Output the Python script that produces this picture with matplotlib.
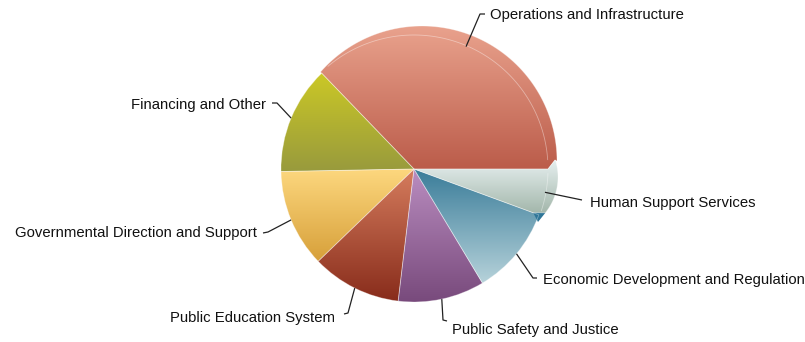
import numpy as np
import matplotlib.pyplot as plt
from matplotlib.colors import LinearSegmentedColormap
from matplotlib.patches import Polygon

# budget shares by appropriation title (percent of total)
categories = [
    "Operations and Infrastructure",
    "Financing and Other",
    "Governmental Direction and Support",
    "Public Education System",
    "Public Safety and Justice",
    "Economic Development and Regulation",
    "Human Support Services",
]
shares = [37.2, 13.1, 11.9, 10.9, 10.5, 10.8, 5.6]

# gradient for each slice, top colour -> bottom colour
top_colors = ["#e9a28d", "#cbc826", "#fdd87f", "#d67d5e", "#ba8dc0", "#397c99", "#e6efef"]
bottom_colors = ["#bb5c4a", "#989a3d", "#d7a03a", "#882c1b", "#784a7c", "#b6d2da", "#a3b7ab"]

W, H = 805, 342
cx, cy = 414, H - 169
r = 133

fig = plt.figure(figsize=(W / 100, H / 100), dpi=100)
ax = fig.add_axes([0, 0, 1, 1])

wedges, _ = ax.pie(shares, startangle=0, counterclock=True, radius=r,
                   center=(cx, cy), frame=True,
                   wedgeprops=dict(linewidth=0.6, edgecolor=(1, 1, 1, 0.35)))


def pt(ang, rad, ox=cx, oy=cy):
    a = np.radians(ang)
    return (ox + rad * np.cos(a), oy + rad * np.sin(a))


def arc(ox, oy, rad, a0, a1, n=80):
    return [pt(a, rad, ox, oy) for a in np.linspace(a0, a1, n)]


shapes = list(wedges)

# the two slices on the right are drawn raised, with a thicker rim
ops, hum = wedges[0], wedges[6]
bev1 = (cx + 134, cy)
bev2 = (555, H - 160)

ox, oy, R = 422, H - 161, 135
corner = pt(ops.theta2, r)
a_end = np.degrees(np.arctan2(corner[1] - oy, corner[0] - ox))
ops_poly = Polygon([(cx, cy), bev1, bev2] + arc(ox, oy, R, 0, a_end) + [corner],
                   closed=True, edgecolor=(1, 1, 1, 0.35), lw=0.6)
ax.add_patch(ops_poly)

hx, hy, hr = 501, H - 177, 57
low = pt(hum.theta1, 127)
hum_poly = Polygon([(cx, cy), low] + arc(hx, hy, hr, -39, 17) + [bev2, bev1],
                   closed=True, edgecolor=(1, 1, 1, 0.35), lw=0.6)
ax.add_patch(hum_poly)
ops.set_visible(False)
hum.set_visible(False)
shapes[0], shapes[6] = ops_poly, hum_poly

grad = np.linspace(0, 1, 256).reshape(-1, 1)
for i, s in enumerate(shapes):
    s.set_facecolor("none")
    s.set_zorder(3)
    ext = s.get_path().get_extents()
    cmap = LinearSegmentedColormap.from_list("s%d" % i, [top_colors[i], bottom_colors[i]])
    im = ax.imshow(grad, cmap=cmap, extent=(ext.x0, ext.x1, ext.y0, ext.y1),
                   origin="upper", aspect="auto", interpolation="bilinear", zorder=2)
    im.set_clip_path(s)

# darker rim of the economic development slice under the raised one
ax.add_patch(Polygon([low, pt(-39, hr, hx, hy), (538, H - 222)], closed=True,
                     facecolor="#2f7698", edgecolor="none", zorder=2.5))

# faint highlight along the original pie edge on the raised slices
t = np.linspace(4, ops.theta2 - 4, 100)
ax.plot(*zip(*[pt(a, 134) for a in t]), color="white", alpha=0.4, lw=0.6, zorder=4)
t = np.linspace(hum.theta1 + 2, 358, 40)
ax.plot(*zip(*[pt(a, 134) for a in t]), color="white", alpha=0.4, lw=0.6, zorder=4)

# leader lines: elbow point, hook end, text anchor (pixel coords, y downward)
layout = [
    ((480, 14), (485, 14), (490, 15), "left"),
    ((277, 103), (272, 103), (266, 105), "right"),
    ((268, 232), (263, 233), (257, 233), "right"),
    ((348, 313), (344, 314), (335, 318), "right"),
    ((443, 320), (447, 321), (452, 330), "left"),
    ((533, 278), (537, 278), (543, 280), "left"),
    ((582, 200), (582, 200), (590, 203), "left"),
]

cum = np.cumsum([0] + shares)
mid = (cum[:-1] + cum[1:]) / 2 / cum[-1] * 360
for i, name in enumerate(categories):
    (ex, ey), (kx, ky), (tx, ty), ha = layout[i]
    sx, sy = pt(mid[i], r)
    ax.plot([sx, ex, kx], [sy, H - ey, H - ky], color="#222222", lw=0.9,
            zorder=5, solid_capstyle="butt")
    ax.text(tx, H - ty, name, ha=ha, va="center", fontsize=10.7,
            family="Liberation Sans", color="#111111")

ax.set_xlim(0, W)
ax.set_ylim(0, H)
ax.set_aspect("equal")
ax.axis("off")

fig.savefig("out.png", dpi=100)
